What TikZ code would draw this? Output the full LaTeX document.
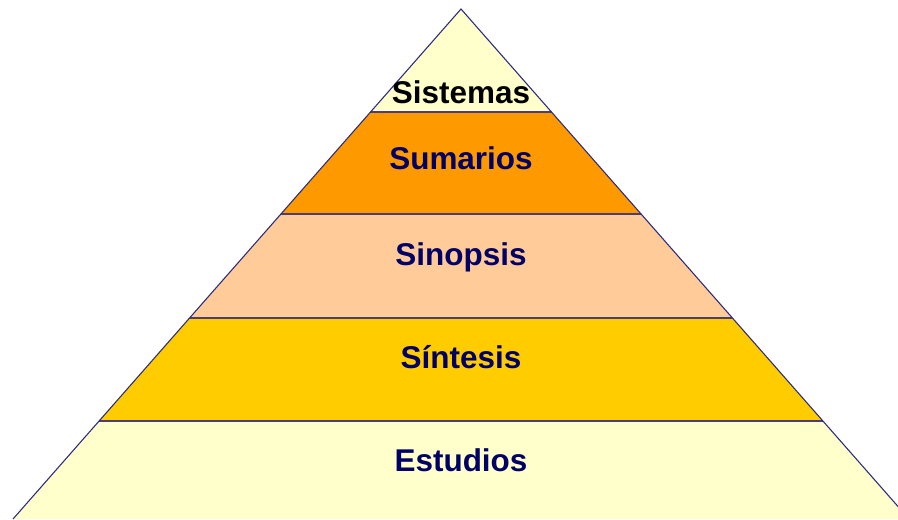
\documentclass[tikz,border=0pt]{standalone}
\usepackage{fontspec}
\setmainfont{Liberation Sans}
\definecolor{lightyel}{HTML}{FFFFCC}
\definecolor{orangeb}{HTML}{FF9900}
\definecolor{peach}{HTML}{FFCC99}
\definecolor{gold}{HTML}{FFCC00}
\definecolor{navy}{HTML}{000066}
\definecolor{edge}{HTML}{2A2A80}
\definecolor{sep}{HTML}{4A3D78}
\tikzset{
  lab/.style={font=\fontsize{23.6}{28}\selectfont\bfseries, text=navy, inner sep=0pt, anchor=center},
  outline/.style={draw=edge, line width=0.8pt},
  seprule/.style={draw=sep, line width=1.4pt}
}
\begin{document}
\begin{tikzpicture}[x=0.75pt,y=-0.75pt]
\useasboundingbox (0,0) rectangle (898,519);
\coordinate (apex) at (461,9);
\coordinate (bl) at (13,519);
\coordinate (br) at (909,519);
\begin{scope}
  \clip (0,0) rectangle (898,519);
  \begin{scope}
    \clip (apex) -- (bl) -- (br) -- cycle;
    \fill[lightyel] (0,0) rectangle (910,112);
    \fill[orangeb] (0,112) rectangle (910,214);
    \fill[peach] (0,214) rectangle (910,318);
    \fill[gold] (0,318) rectangle (910,421);
    \fill[lightyel] (0,421) rectangle (910,530);
    \draw[seprule] (0,112) -- (910,112);
    \draw[seprule] (0,214) -- (910,214);
    \draw[seprule] (0,318) -- (910,318);
    \draw[seprule] (0,421) -- (910,421);
  \end{scope}
  \draw[outline] (bl) -- (apex) -- (br);
\end{scope}
\node[lab, text=black] (sistemas) at (461,92) {Sistemas};
\node[lab] (sumarios) at (461,158) {Sumarios};
\node[lab] (sinopsis) at (461,257) {Sinopsis};
\node[lab] (sintesis) at (461,357) {Síntesis};
\node[lab] (estudios) at (461,460) {Estudios};
\end{tikzpicture}
\end{document}
